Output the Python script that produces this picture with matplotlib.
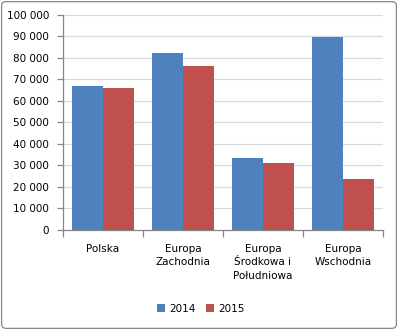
import matplotlib
matplotlib.use("Agg")
import matplotlib.pyplot as plt
from matplotlib.patches import FancyBboxPatch
from matplotlib.ticker import FuncFormatter
import numpy as np

categories = ["Polska", "Europa\nZachodnia", "Europa\nŚrodkowa i\nPołudniowa", "Europa\nWschodnia"]
series_names = ["2014", "2015"]
values_2014 = [66900, 82200, 33400, 89600]
values_2015 = [65900, 76200, 31100, 23700]
colors = ["#4f81bd", "#c0504d"]

fig = plt.figure(figsize=(3.98, 3.30), dpi=100)
ax = fig.add_axes([0.158, 0.303, 0.804, 0.653])

x = np.arange(len(categories))
w = 0.39
ax.bar(x - w / 2, values_2014, w, color=colors[0], label=series_names[0], zorder=3)
ax.bar(x + w / 2, values_2015, w, color=colors[1], label=series_names[1], zorder=3)

ax.set_xlim(-0.5, len(categories) - 0.5)
ax.set_ylim(0, 100000)
ax.set_yticks(np.arange(0, 100001, 10000))
ax.yaxis.set_major_formatter(FuncFormatter(lambda v, p: f"{int(v):,}".replace(",", " ")))
ax.grid(axis="y", color="#d9d9d9", linewidth=0.9, zorder=0)

ax.set_xticks(x)
ax.set_xticklabels(categories, fontsize=7.5, linespacing=1.45)
ax.set_xticks(np.arange(-0.5, len(categories)), minor=True)
ax.tick_params(axis="x", which="major", length=0, pad=10)
ax.tick_params(axis="x", which="minor", length=5, color="#868686", width=0.9)
ax.tick_params(axis="y", length=4, color="#868686", width=0.9, labelsize=7.5, pad=6)

for side in ["top", "right"]:
    ax.spines[side].set_visible(False)
for side in ["left", "bottom"]:
    ax.spines[side].set_color("#868686")
    ax.spines[side].set_linewidth(0.9)

fig.legend(loc="center", bbox_to_anchor=(0.505, 0.064), ncol=2, frameon=False,
           fontsize=7.5, handlelength=0.75, handleheight=0.75, handletextpad=0.4,
           columnspacing=1.0)

fig.patches.append(FancyBboxPatch((0.004, 0.005), 0.992, 0.99,
                                  boxstyle="round,pad=0,rounding_size=0.012",
                                  transform=fig.transFigure, fill=False,
                                  edgecolor="#868686", linewidth=0.9))

fig.savefig("out.png", dpi=100)
